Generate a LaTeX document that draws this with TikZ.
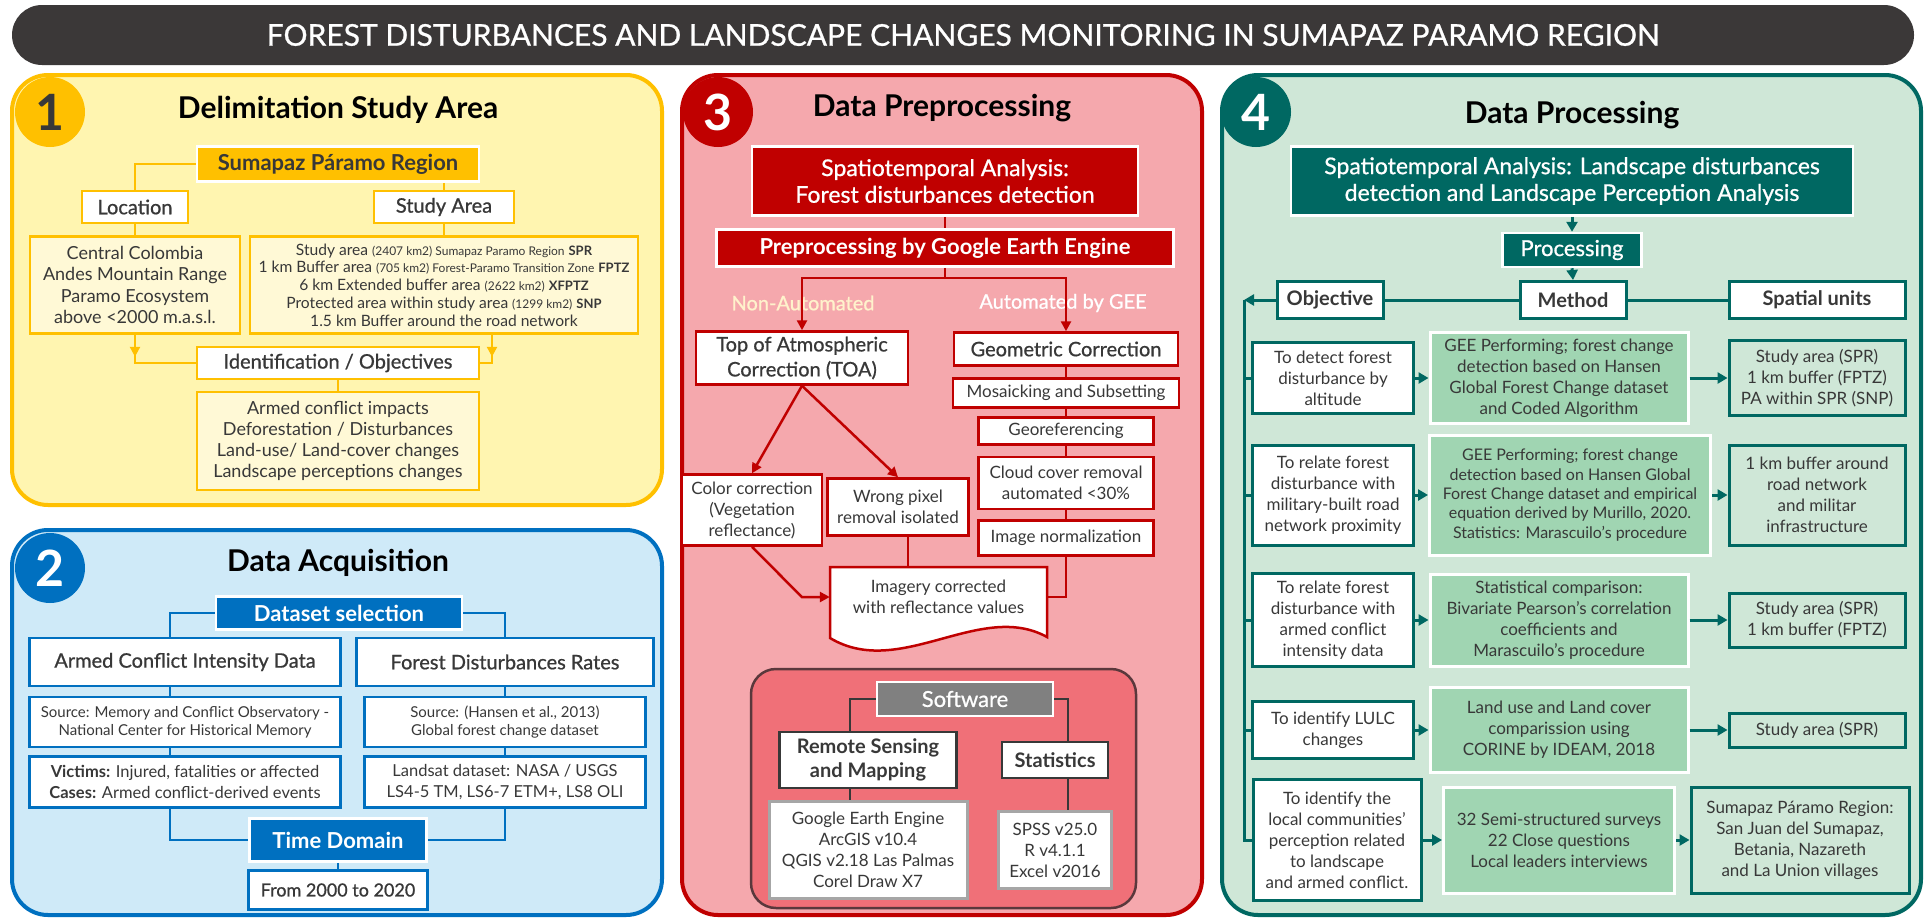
\documentclass[tikz,border=0pt]{standalone}
\usepackage{fontspec}
\setmainfont{Lato}
\newfontfamily\medfont[FakeBold=0.8]{Lato}
\definecolor{titlegray}{RGB}{59,56,56}
\definecolor{sunyellow}{RGB}{255,192,0}
\definecolor{paleyellow}{RGB}{255,245,176}
\definecolor{creamyellow}{RGB}{255,249,214}
\definecolor{acqblue}{RGB}{0,112,192}
\definecolor{skyblue}{RGB}{207,234,248}
\definecolor{prepred}{RGB}{192,0,0}
\definecolor{pinkred}{RGB}{245,168,173}
\definecolor{softred}{RGB}{240,112,120}
\definecolor{softborder}{RGB}{90,56,60}
\definecolor{cream}{RGB}{255,242,204}
\definecolor{procteal}{RGB}{0,104,98}
\definecolor{mintgreen}{RGB}{207,231,215}
\definecolor{leafgreen}{RGB}{160,213,178}
\definecolor{inkgray}{RGB}{56,56,56}
\definecolor{midgray}{RGB}{166,166,166}
\definecolor{swgray}{RGB}{128,128,128}
\usetikzlibrary{arrows.meta, calc}
\newcommand{\fsz}[2]{\fontsize{#1}{#2}\selectfont}

\begin{document}
\begin{tikzpicture}[x=1pt, y=-1pt,
  panel/.style={line width=4pt, rounded corners=36pt},
  badge/.style={circle, minimum size=70pt, inner sep=0pt, font=\fsz{50}{50}\bfseries},
  ptitle/.style={font=\fsz{30}{32}\bfseries, text=black},
  ybox/.style={draw=sunyellow, fill=white, line width=2.5pt, align=center, inner sep=1pt, text=inkgray, font=\medfont\fsz{20}{22}},
  ydet/.style={ybox, fill=creamyellow, font=\fsz{18}{21.3}},
  yline/.style={draw=sunyellow, line width=2.5pt},
  bbox/.style={draw=acqblue, fill=white, line width=2.5pt, align=center, inner sep=1pt, text=inkgray},
  bhead/.style={draw=white, fill=acqblue, line width=2.5pt, align=center, inner sep=1pt, text=white, font=\fsz{22}{24}\bfseries},
  bline/.style={draw=acqblue, line width=2.5pt},
  rbox/.style={draw=prepred, fill=white, line width=2.5pt, align=center, inner sep=1pt, text=inkgray, font=\fsz{17}{21}},
  rhead/.style={draw=white, fill=prepred, line width=2.5pt, align=center, inner sep=1pt, text=white},
  rline/.style={draw=prepred, line width=2.5pt},
  swbox/.style={draw=inkgray, fill=white, line width=2.5pt, align=center, inner sep=1pt, text=inkgray, font=\fsz{17}{21}},
  swline/.style={draw=inkgray, line width=2.5pt},
  thead/.style={draw=white, fill=procteal, line width=2.5pt, align=center, inner sep=1pt, text=white},
  tcol/.style={draw=procteal, fill=white, line width=3pt, minimum height=37, align=center, inner sep=1pt, text=inkgray, font=\fsz{20}{22}\bfseries},
  tobj/.style={draw=procteal, fill=white, line width=3pt, align=center, inner sep=1pt, text=inkgray, font=\fsz{17}{21}},
  tmeth/.style={tobj, draw=white, fill=leafgreen},
  tunit/.style={tobj, fill=mintgreen},
  tline/.style={draw=procteal, line width=3pt}
]
  \useasboundingbox (0,0) rectangle (1926,918);

  % banner
  \node[fill=titlegray, rounded corners=30pt, minimum width=1902, minimum height=60, text=white, font=\medfont\fsz{30}{32}]
    (banner) at (963,35) {FOREST DISTURBANCES AND LANDSCAPE CHANGES MONITORING IN SUMAPAZ PARAMO REGION};

  % 1 delimitation
  \draw[panel, draw=sunyellow, fill=paleyellow] (12,75) rectangle (662,505);
  \node[badge, fill=sunyellow, text=inkgray] (one) at (50,112) {1};
  \node[ptitle] (t1) at (338,110) {Delimitation Study Area};
  \node[ybox, fill=sunyellow, draw=white, minimum width=282, minimum height=35, font=\fsz{22}{24}\bfseries] (spr) at (338,164) {Sumapaz Páramo Region};
  \node[ybox, minimum width=106, minimum height=32] (loc) at (135,207) {Location};
  \node[ybox, minimum width=140, minimum height=32] (area) at (444,207) {Study Area};
  \node[ydet, minimum width=210, minimum height=97] (locinfo) at (135,285) {Central Colombia\\Andes Mountain Range\\Paramo Ecosystem\\above <2000 m.a.s.l.};
  \node[ydet, minimum width=388, minimum height=97, font=\fsz{15.6}{17.8}] (areainfo) at (444,285)
    {Study area {\fsz{12}{17.8}(2407 km2) Sumapaz Paramo Region} {\fsz{13}{17.8}\bfseries SPR}\\
     1 km Buffer area {\fsz{12}{17.8}(705 km2) Forest-Paramo Transition Zone} {\fsz{13}{17.8}\bfseries FPTZ}\\
     6 km Extended buffer area {\fsz{12}{17.8}(2622 km2)} {\fsz{13}{17.8}\bfseries XFPTZ}\\
     Protected area within study area {\fsz{12}{17.8}(1299 km2)} {\fsz{13}{17.8}\bfseries SNP}\\
     1.5 km Buffer around the road network};
  \node[ybox, minimum width=282, minimum height=32] (ident) at (338,363) {Identification / Objectives};
  \node[ydet, minimum width=282, minimum height=98] (objinfo) at (338,441) {Armed conflict impacts\\Deforestation / Disturbances\\Land-use/ Land-cover changes\\Landscape perceptions changes};
  \draw[yline] (spr.west) -| (loc.north);
  \draw[yline] (spr.south -| area.north) -- (area.north);
  \draw[yline] (loc.south) -- (locinfo.north);
  \draw[yline] (area.south) -- (areainfo.north);
  \draw[yline] (locinfo.south) |- (ident.west);
  \draw[yline, -{Triangle[length=10pt,width=10pt]}] (locinfo.south) -- ++(0,22);
  \draw[yline] ([xshift=48pt]areainfo.south) |- (ident.east);
  \draw[yline, -{Triangle[length=10pt,width=10pt]}] ([xshift=48pt]areainfo.south) -- ++(0,22);
  \draw[yline] (ident.south) -- (objinfo.north);

  % 2 acquisition
  \draw[panel, draw=acqblue, fill=skyblue] (12,530) rectangle (662,915);
  \node[badge, fill=acqblue, text=white] (two) at (50,568) {2};
  \node[ptitle] (t2) at (338,563) {Data Acquisition};
  \node[bhead, minimum width=246, minimum height=33] (dataset) at (339,613) {Dataset selection};
  \node[bbox, minimum width=311, minimum height=48, font=\medfont\fsz{20}{22}] (conflict) at (185,662) {Armed Conflict Intensity Data};
  \node[bbox, minimum width=297, minimum height=48, font=\medfont\fsz{20}{22}] (forest) at (505,662) {Forest Disturbances Rates};
  \node[bbox, minimum width=311, minimum height=50, font=\fsz{15}{18.3}] (cmhsrc) at (185,722) {Source: Memory and Conflict Observatory -\\National Center for Historical Memory};
  \node[bbox, minimum width=281, minimum height=50, font=\fsz{15}{18.3}] (hansen) at (505,722) {Source: (Hansen et al., 2013)\\Global forest change dataset};
  \node[bbox, minimum width=311, minimum height=51, font=\fsz{16.5}{21.5}] (victims) at (185,782) {\textbf{Victims:} Injured, fatalities or affected\\\textbf{Cases:} Armed conflict-derived events};
  \node[bbox, minimum width=281, minimum height=51, font=\fsz{16.5}{21.5}] (landsat) at (505,782) {Landsat dataset: NASA / USGS\\LS4-5 TM, LS6-7 ETM+, LS8 OLI};
  \node[bhead, minimum width=177, minimum height=43] (timedom) at (338,840) {Time Domain};
  \node[bbox, minimum width=179, minimum height=39, font=\medfont\fsz{18}{20}] (period) at (338,890) {From 2000 to 2020};
  \draw[bline] (dataset.west) -| ([xshift=-15pt]conflict.north);
  \draw[bline] ([xshift=-15pt]conflict.south) -- ([xshift=-15pt]cmhsrc.north);
  \draw[bline] ([xshift=-15pt]cmhsrc.south) -- ([xshift=-15pt]victims.north);
  \draw[bline] ([xshift=-15pt]victims.south) |- (timedom.west);
  \draw[bline] (dataset.east) -| (forest.north);
  \draw[bline] (forest.south) -- (hansen.north);
  \draw[bline] (hansen.south) -- (landsat.north);
  \draw[bline] (landsat.south) |- (timedom.east);
  \draw[bline] (timedom.south) -- (period.north);

  % 3 preprocessing
  \draw[panel, draw=prepred, fill=pinkred] (682,75) rectangle (1202,915);
  \node[badge, fill=prepred, text=white] (three) at (718,112) {3};
  \node[ptitle] (t3) at (942,108) {Data Preprocessing};
  \node[rhead, minimum width=386, minimum height=69, font=\medfont\fsz{23}{26.7}] (stred) at (945,181) {Spatiotemporal Analysis:\\Forest disturbances detection};
  \node[rhead, minimum width=457, minimum height=37, font=\fsz{22}{24}\bfseries] (geeprep) at (945,248) {Preprocessing by Google Earth Engine};
  \coordinate (fork) at (945,278);
  \node[text=cream, font=\medfont\fsz{20}{22}] (nonauto) at (803,303) {Non-Automated};
  \node[text=white, font=\medfont\fsz{20}{22}] (auto) at (1063,303) {Automated by GEE};
  \node[rbox, minimum width=212, minimum height=53, font=\medfont\fsz{20}{25}] (toa) at (802,358) {Top of Atmospheric\\Correction (TOA)};
  \node[rbox, minimum width=224, minimum height=33, font=\medfont\fsz{20}{22}] (geom) at (1066,349) {Geometric Correction};
  \node[rbox, minimum width=226, minimum height=29] (mosaic) at (1066,393) {Mosaicking and Subsetting};
  \node[rbox, minimum width=175, minimum height=27] (georef) at (1066,431) {Georeferencing};
  \node[rbox, minimum width=175, minimum height=52] (cloud) at (1066,483) {Cloud cover removal\\automated <30\%};
  \node[rbox, minimum width=175, minimum height=35] (norm) at (1066,538) {Image normalization};
  \node[rbox, minimum width=140, minimum height=71] (colour) at (752,510) {Color correction\\(Vegetation\\reflectance)};
  \node[rbox, minimum width=141, minimum height=57] (wrongpx) at (898,507) {Wrong pixel\\removal isolated};
  \draw[rline, fill=white] (830,567) -- (1047,567) -- (1047,637) .. controls (980,600) and (900,680) .. (830,638) -- cycle;
  \node[font=\fsz{17}{21.5}, text=inkgray, align=center, minimum width=217, minimum height=60] (imagery) at (938.5,597) {Imagery corrected\\with reflectance values};
  \draw[rline] (stred.south) -- (geeprep.north);
  \draw[rline] (geeprep.south) -- (fork);
  \draw[rline, -{Triangle[length=10pt,width=10pt]}] (fork) -| (toa.north);
  \draw[rline, -{Triangle[length=10pt,width=10pt]}] (fork) -| (geom.north);
  \draw[rline, -{Triangle[length=10pt,width=10pt]}] (toa.south) -- (colour.north);
  \draw[rline, -{Triangle[length=10pt,width=10pt]}] (toa.south) -- (wrongpx.north);
  \draw[rline] ([xshift=10pt]wrongpx.south) -- ([xshift=10pt]wrongpx.south |- imagery.north);
  \draw[rline, -{Triangle[length=10pt,width=10pt]}] (colour.south) -- ([xshift=-28pt]imagery.west) -- (imagery.west);
  \draw[rline] (geom.south) -- (mosaic.north);
  \draw[rline] (mosaic.south) -- (georef.north);
  \draw[rline] (georef.south) -- (cloud.north);
  \draw[rline] (cloud.south) -- (norm.north);
  \draw[rline] (norm.south) |- (imagery.east);

  % software
  \draw[line width=2.5pt, draw=softborder, fill=softred, rounded corners=25pt] (751,669) rectangle (1136,908);
  \node[draw=white, fill=swgray, line width=2.5pt, minimum width=176, minimum height=34, text=white, font=\medfont\fsz{22}{24}] (software) at (965,699) {Software};
  \node[swbox, minimum width=177, minimum height=56, font=\fsz{20}{24}\bfseries] (rsmap) at (868,760) {Remote Sensing\\and Mapping};
  \node[swbox, draw=midgray, line width=3pt, minimum width=198, minimum height=97] (rstools) at (868,850) {Google Earth Engine\\ArcGIS v10.4\\QGIS v2.18 Las Palmas\\Corel Draw X7};
  \node[swbox, minimum width=106, minimum height=36, font=\fsz{20}{22}\bfseries] (stats) at (1055,760) {Statistics};
  \node[swbox, draw=midgray, line width=3pt, minimum width=113, minimum height=77] (stattools) at (1055,850) {SPSS v25.0\\R v4.1.1\\Excel v2016};
  \draw[swline] (software.west) -| ([xshift=-18pt]rsmap.north);
  \draw[swline] ([xshift=-18pt]rsmap.south) -- ([xshift=-18pt]rstools.north);
  \draw[swline] (software.east) -| ([xshift=13pt]stats.north);
  \draw[swline] ([xshift=13pt]stats.south) -- ([xshift=13pt]stattools.north);

  % 4 processing
  \draw[panel, draw=procteal, fill=mintgreen] (1222,75) rectangle (1921,915);
  \node[badge, fill=procteal, text=white] (four) at (1256,112) {4};
  \node[ptitle] (t4) at (1572,115) {Data Processing};
  \node[thead, minimum width=562, minimum height=69, font=\medfont\fsz{23}{26.7}] (landscape) at (1572,181) {Spatiotemporal Analysis: Landscape disturbances\\detection and Landscape Perception Analysis};
  \node[thead, minimum width=139, minimum height=34, font=\medfont\fsz{22}{24}] (processing) at (1572,250) {Processing};
  \node[tcol, minimum width=106] (objective) at (1330,300) {Objective};
  \node[tcol, minimum width=106] (method) at (1573,300) {Method};
  \node[tcol, minimum width=176] (units) at (1817,300) {Spatial units};
  \coordinate (spine) at (1244,300);

  \node[tobj, minimum width=161, minimum height=71] (obja) at (1333,378) {To detect forest\\disturbance by\\altitude};
  \node[tmeth, minimum width=258, minimum height=91] (metha) at (1559,378) {GEE Performing; forest change\\detection based on Hansen\\Global Forest Change dataset\\and Coded Algorithm};
  \node[tunit, minimum width=176, minimum height=75] (unita) at (1817,378) {Study area (SPR)\\1 km buffer (FPTZ)\\PA within SPR (SNP)};

  \node[tobj, minimum width=161, minimum height=100] (objb) at (1333,495) {To relate forest\\disturbance with\\military-built road\\network proximity};
  \node[tmeth, minimum width=281, minimum height=120, font=\fsz{16}{19.4}] (methb) at (1570,495) {GEE Performing; forest change\\detection based on Hansen Global\\Forest Change dataset and empirical\\equation derived  by Murillo, 2020.\\Statistics: Marascuilo's procedure};
  \node[tunit, minimum width=176, minimum height=100] (unitb) at (1817,495) {1 km buffer around\\road network\\and militar\\infrastructure};

  \node[tobj, minimum width=161, minimum height=93] (objc) at (1333,620) {To relate forest\\disturbance with\\armed conflict\\intensity data};
  \node[tmeth, minimum width=258, minimum height=92] (methc) at (1559,620) {Statistical comparison:\\Bivariate Pearson's correlation\\coefficients and\\Marascuilo's procedure};
  \node[tunit, minimum width=176, minimum height=54] (unitc) at (1817,620) {Study area (SPR)\\1 km buffer (FPTZ)};

  \node[tobj, minimum width=161, minimum height=57] (objd) at (1333,730) {To identify LULC\\changes};
  \node[tmeth, minimum width=258, minimum height=85] (methd) at (1559,730) {Land use and Land cover\\comparission using\\CORINE by IDEAM, 2018};
  \node[tunit, minimum width=176, minimum height=34] (unitd) at (1817,730) {Study area (SPR)};

  \node[tobj, minimum width=168, minimum height=121] (obje) at (1337,840) {To identify the\\local communities'\\perception related\\to landscape\\and armed conflict.};
  \node[tmeth, minimum width=231, minimum height=106] (methe) at (1559,840) {32 Semi-structured surveys\\22 Close questions\\Local leaders interviews};
  \node[tunit, minimum width=218, minimum height=106] (unite) at (1800,840) {Sumapaz Páramo Region:\\San Juan del Sumapaz,\\Betania, Nazareth\\and La Union villages};

  \draw[tline, -{Triangle[length=10pt,width=11pt]}] (landscape.south) -- (processing.north);
  \draw[tline, -{Triangle[length=10pt,width=11pt]}] (processing.south) -- (method.north);
  \draw[tline] (objective.east) -- (method.west);
  \draw[tline] (method.east) -- (units.west);
  \draw[tline, -{Triangle[length=10pt,width=11pt]}] (objective.west) -- (spine);
  \draw[tline] (spine) |- (obje.west);
  \draw[tline] (spine |- obja.west) -- (obja.west);
  \draw[tline] (spine |- objb.west) -- (objb.west);
  \draw[tline] (spine |- objc.west) -- (objc.west);
  \draw[tline] (spine |- objd.west) -- (objd.west);
  \draw[tline, -{Triangle[length=10pt,width=11pt]}] (obja.east) -- (metha.west);
  \draw[tline, -{Triangle[length=10pt,width=11pt]}] (metha.east) -- (unita.west);
  \draw[tline, -{Triangle[length=10pt,width=11pt]}] (objb.east) -- (methb.west);
  \draw[tline, -{Triangle[length=10pt,width=11pt]}] (methb.east) -- (unitb.west);
  \draw[tline, -{Triangle[length=10pt,width=11pt]}] (objc.east) -- (methc.west);
  \draw[tline, -{Triangle[length=10pt,width=11pt]}] (methc.east) -- (unitc.west);
  \draw[tline, -{Triangle[length=10pt,width=11pt]}] (objd.east) -- (methd.west);
  \draw[tline, -{Triangle[length=10pt,width=11pt]}] (methd.east) -- (unitd.west);
  \draw[tline, -{Triangle[length=10pt,width=11pt]}] (obje.east) -- (methe.west);
  \draw[tline, -{Triangle[length=10pt,width=11pt]}] (methe.east) -- (unite.west);
\end{tikzpicture}
\end{document}
